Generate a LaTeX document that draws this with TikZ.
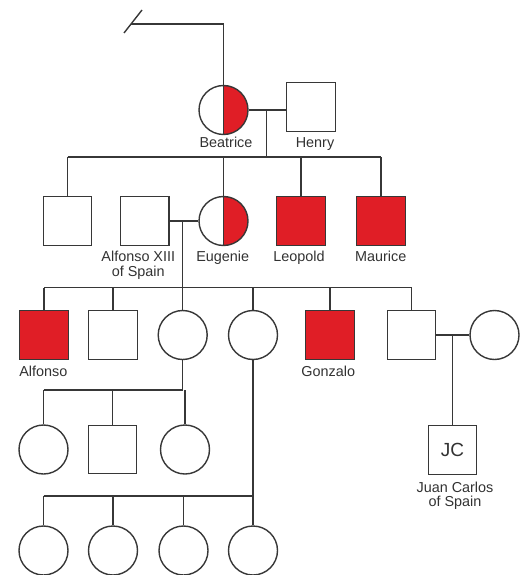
\documentclass[tikz,border=0pt]{standalone}
\usepackage{fontspec}
\setmainfont{Liberation Sans}
\definecolor{aff}{RGB}{224,30,38}
\definecolor{ln}{RGB}{55,55,55}
\definecolor{tx}{RGB}{50,50,50}
\begin{document}
\begin{tikzpicture}[x=1pt,y=-1pt,
  conn/.style={draw=ln,line width=1.4pt},
  sq/.style={draw=ln,line width=1.4pt,fill=white,rectangle,minimum size=48.5pt,inner sep=0pt},
  sqa/.style={sq,fill=aff},
  circ/.style={draw=ln,line width=1.4pt,fill=white,circle,minimum size=49pt,inner sep=0pt},
  halfc/.style={circ,path picture={
     \fill[aff] (path picture bounding box.north) rectangle (path picture bounding box.south east);
     \draw[ln,line width=1.4pt] (path picture bounding box.north) -- (path picture bounding box.south);}},
  lbl/.style={text=tx,inner sep=0pt,anchor=north,align=center,font=\fontsize{14.4}{14.6}\selectfont},
  jclbl/.style={text=tx,inner sep=0pt,font=\fontsize{19}{20}\selectfont}
]
\useasboundingbox (0,0) rectangle (527,575);

% generation I
\coordinate (sl1) at (124,33);
\coordinate (sl2) at (142,10);
\coordinate (tl) at (131,24);
\node[halfc] (bea) at (223.5,110) {};
\node[sq] (hen) at (311,107) {};
\node[lbl] (lbea) at (226,136.7) {Beatrice};
\node[lbl] (lhen) at (315,137.3) {Henry};

\draw[conn] (sl1) -- (sl2);
\draw[conn] (tl) -- (tl -| bea.north) -- (bea.north);
\coordinate (m1) at (266.7,110);
\coordinate (s1) at (266.7,157);
\draw[conn] (bea.east) -- (bea.east -| hen.west);
\draw[conn] (m1) -- (s1);

% generation II
\node[sq] (c1) at (67.5,221) {};
\node[sq] (ax) at (144.7,221) {};
\node[halfc] (eug) at (223.5,221) {};
\node[sqa] (leo) at (301,221) {};
\node[sqa] (mau) at (381,221) {};
\node[lbl] (lax) at (138.3,251) {Alfonso XIII\\of Spain};
\node[lbl] (leug) at (222.7,251) {Eugenie};
\node[lbl] (lleo) at (299,251) {Leopold};
\node[lbl] (lmau) at (380.7,251) {Maurice};

\draw[conn] (c1.north |- s1) -- (mau.north |- s1);
\foreach \n in {c1,eug,leo,mau} \draw[conn] (\n.north |- s1) -- (\n.north);
\draw[conn] (ax.east) -- (eug.west);
\coordinate (m2) at (182.7,221);
\coordinate (s2) at (182.7,287.7);
\draw[conn] (m2) -- (s2);

% generation III
\node[sqa] (alf) at (44,335) {};
\node[sq] (r3b) at (113,335) {};
\node[circ] (r3c) at (182.7,335) {};
\node[circ] (r3d) at (253,335) {};
\node[sqa] (gon) at (330,335) {};
\node[sq] (r3f) at (411.5,335) {};
\node[circ] (wife) at (494.5,335) {};
\node[lbl] (lalf) at (43.3,365.7) {Alfonso};
\node[lbl] (lgon) at (328.3,365.7) {Gonzalo};

\draw[conn] (alf.north |- s2) -- (r3f.north |- s2);
\foreach \n in {alf,r3b,r3c,r3d,gon,r3f} \draw[conn] (\n.north |- s2) -- (\n.north);
\draw[conn] (r3f.east) -- (wife.west);
\coordinate (m3) at (452.5,335);

% Juan Carlos
\node[sq] (jc) at (452.5,450) {};
\node[jclbl] (ljc) at (jc.center) {JC};
\node[lbl] (ljcn) at (455,481.7) {Juan Carlos\\of Spain};
\draw[conn] (m3) -- (jc.north);

% generation IV
\coordinate (s3) at (182.7,390);
\node[circ] (r4a) at (43.5,449.5) {};
\node[sq] (r4b) at (112.5,449.5) {};
\node[circ] (r4c) at (185,449.5) {};
\draw[conn] (r3c.south) -- (s3);
\draw[conn] (r4a.north |- s3) -- (s3);
\foreach \n in {r4a,r4b,r4c} \draw[conn] (\n.north |- s3) -- (\n.north);

\coordinate (s4) at (253,496);
\node[circ] (r5a) at (43.5,550.5) {};
\node[circ] (r5b) at (113,550.5) {};
\node[circ] (r5c) at (183.5,550.5) {};
\node[circ] (r5d) at (253,550.5) {};
\draw[conn] (r3d.south) -- (s4);
\draw[conn] (r5a.north |- s4) -- (s4);
\foreach \n in {r5a,r5b,r5c,r5d} \draw[conn] (\n.north |- s4) -- (\n.north);
\end{tikzpicture}
\end{document}
